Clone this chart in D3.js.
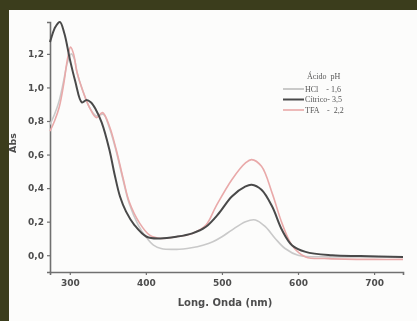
<!DOCTYPE html>
<html>
<head>
<meta charset="utf-8">
<script src="https://cdn.jsdelivr.net/npm/d3@7"></script>
<style>
	html, body { margin: 0; padding: 0; background: #3b3d1c; }
	svg { display: block; }
	.legend text { white-space: pre; }
</style>
</head>
<body>
<svg id="chart" width="417" height="321"></svg>
<script>
// wavelength (nm) / absorbance
const citricoWl = [274, 276, 281, 287, 293, 300, 307, 316, 322, 328, 334, 342, 352, 359, 366, 374, 385, 401, 418, 440, 461, 479, 496, 513, 531, 539, 552, 566, 579, 592, 610, 645, 682, 738]
const citricoAbs = [1.27, 1.30, 1.36, 1.39, 1.32, 1.17, 1.04, 0.91, 0.925, 0.91, 0.87, 0.79, 0.63, 0.48, 0.35, 0.26, 0.18, 0.11, 0.10, 0.11, 0.13, 0.17, 0.25, 0.35, 0.41, 0.42, 0.39, 0.29, 0.15, 0.06, 0.02, 0.0, -0.005, -0.01]

const tfaWl = [274, 280, 286, 292, 297, 301, 305, 309, 317, 326, 335, 343, 352, 361, 370, 378, 392, 405, 420, 440, 461, 479, 492, 513, 531, 539, 552, 566, 579, 592, 610, 640, 700, 738]
const tfaAbs = [0.74, 0.80, 0.88, 1.02, 1.17, 1.24, 1.20, 1.10, 0.98, 0.88, 0.82, 0.85, 0.77, 0.63, 0.46, 0.32, 0.19, 0.12, 0.10, 0.11, 0.13, 0.18, 0.29, 0.45, 0.55, 0.57, 0.53, 0.37, 0.19, 0.06, -0.01, -0.02, -0.025, -0.025]

const hclWl = [274, 280, 286, 292, 297, 302, 306, 310, 318, 326, 335, 344, 352, 361, 370, 378, 390, 400, 410, 420, 440, 460, 475, 488, 500, 513, 531, 544, 557, 570, 583, 600, 640, 700, 738]
const hclAbs = [0.78, 0.84, 0.92, 1.04, 1.15, 1.20, 1.17, 1.08, 0.97, 0.88, 0.83, 0.84, 0.76, 0.62, 0.45, 0.31, 0.18, 0.11, 0.06, 0.04, 0.035, 0.045, 0.06, 0.08, 0.11, 0.15, 0.20, 0.21, 0.17, 0.10, 0.04, 0.0, -0.01, -0.01, -0.01]

const xTicks = [300, 400, 500, 600, 700]
const yTicks = [0, 0.2, 0.4, 0.6, 0.8, 1.0, 1.2]
const legendTitle = 'Ácido  pH'
const legendLabels = ['HCl    - 1,6', 'Cítrico- 3,5', 'TFA    -  2,2']

const svg = d3.select('#chart')

// blurry look of the source
const defs = svg.append('defs')
defs.append('filter').attr('id', 'soft')
	.append('feGaussianBlur').attr('stdDeviation', 0.6)

// white panel inside the olive frame
svg.append('rect')
	.attr('x', 9).attr('y', 10)
	.attr('width', 408).attr('height', 311)
	.attr('fill', '#fcfcfb')

const g = svg.append('g').attr('filter', 'url(#soft)')

const x = d3.scaleLinear().domain([274, 738]).range([50, 403])
const y = d3.scaleLinear().domain([-0.1, 1.39]).range([272, 22])

// Axes
const xAxis = g.append('g')
	.attr('transform', `translate(0,${y(-0.1)})`)
	.call(d3.axisBottom(x).tickValues(xTicks).tickSize(3).tickPadding(5).tickFormat(d3.format('d')))
const yAxis = g.append('g')
	.attr('transform', `translate(${x(274)},0)`)
	.call(d3.axisLeft(y).tickValues(yTicks).tickSize(3).tickPadding(3)
		.tickFormat((d) => d3.format('.1f')(d).replace('.', ',')))

for (const ax of [xAxis, yAxis]) {
	ax.select('.domain').attr('stroke', '#6f6f6f').attr('stroke-width', 1.6)
	ax.selectAll('.tick line').attr('stroke', '#6f6f6f').attr('stroke-width', 1.2)
	ax.selectAll('.tick text')
		.attr('fill', '#4e4e4e')
		.attr('font-family', 'DejaVu Sans')
		.attr('font-weight', 'bold')
		.attr('font-size', 9)
}

// axis titles
g.append('text')
	.attr('x', 225).attr('y', 306)
	.attr('text-anchor', 'middle')
	.attr('font-family', 'DejaVu Sans').attr('font-weight', 'bold').attr('font-size', 10)
	.attr('fill', '#4e4e4e')
	.text('Long. Onda (nm)')
g.append('text')
	.attr('transform', 'translate(16,143) rotate(-90)')
	.attr('text-anchor', 'middle')
	.attr('font-family', 'DejaVu Sans').attr('font-weight', 'bold').attr('font-size', 9.5)
	.attr('fill', '#4e4e4e')
	.text('Abs')

// Series
const line = d3.line()
	.x((d) => x(d[0]))
	.y((d) => y(d[1]))
	.curve(d3.curveCatmullRom.alpha(0.5))

const series = [
	{ wl: hclWl, abs: hclAbs, color: '#c9c9c9', width: 1.6 },
	{ wl: tfaWl, abs: tfaAbs, color: '#e9a9a9', width: 1.6 },
	{ wl: citricoWl, abs: citricoAbs, color: '#4a4a4a', width: 2 }
]

g.append('g')
	.selectAll('path')
	.data(series)
	.enter()
	.append('path')
	.attr('fill', 'none')
	.attr('stroke', (d) => d.color)
	.attr('stroke-width', (d) => d.width)
	.attr('d', (d) => line(d.wl.map((w, i) => [w, d.abs[i]])))

// Legend
const legend = g.append('g').attr('class', 'legend')
	.attr('font-family', 'Liberation Serif').attr('font-size', 8).attr('fill', '#555')
legend.append('text').attr('x', 307).attr('y', 79).text(legendTitle)
const legendColors = ['#bdbdbd', '#4a4a4a', '#e9a9a9']
legendLabels.forEach((label, i) => {
	const ly = 89 + i * 10.5
	legend.append('line')
		.attr('x1', 283).attr('x2', 304)
		.attr('y1', ly).attr('y2', ly)
		.attr('stroke', legendColors[i])
		.attr('stroke-width', i === 1 ? 2 : 1.6)
	legend.append('text').attr('x', 305).attr('y', ly + 2.5).text(label)
})
</script>
</body>
</html>
